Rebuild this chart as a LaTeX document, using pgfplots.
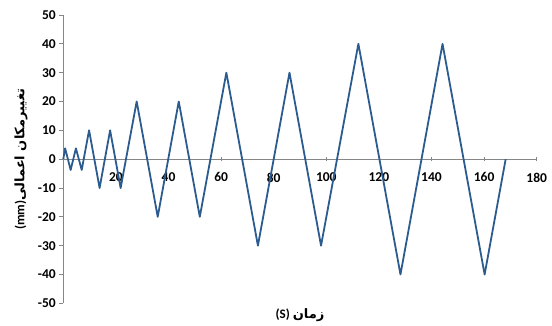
\documentclass[border=0pt]{standalone}
\usepackage{pgfplots}
\pgfplotsset{compat=1.18}
\usepackage{fontspec}
\setmainfont{Carlito}
\newfontfamily\arabicfont[Script=Arabic]{DejaVu Sans}
\TeXXeTstate=1
\definecolor{series}{RGB}{44,92,143}
\definecolor{axisgray}{RGB}{134,134,134}
\begin{document}
\begin{tikzpicture}
\begin{axis}[
  scale only axis,
  width=473.4pt, height=288.3pt,
  xmin=0, xmax=180, ymin=-50, ymax=50,
  axis y line=left, axis x line=middle,
  axis line style={axisgray, line width=0.8pt, -},
  xtick={0,20,...,180}, ytick={-50,-40,...,50},
  major tick length=4pt,
  every tick/.style={axisgray, line width=0.8pt},
  ytick align=outside, xtick align=center,
  /pgf/number format/assume math mode=true,
  tick label style={font=\fontsize{13.5}{15}\selectfont\bfseries, black},
  xticklabel style={anchor=north, yshift=-8pt},
  yticklabel style={anchor=east},
  xlabel={\fontsize{13}{15}\selectfont\bfseries (S) \arabicfont\beginR زمان\endR},
  ylabel={\fontsize{13}{15}\selectfont\bfseries (mm)\arabicfont\beginR تغییرمکان اعمالی\endR},
  x label style={at={(axis description cs:0.5,0)}, anchor=center, yshift=-12pt},
  y label style={at={(axis description cs:-0.0894,0.5)}, anchor=center},
  clip=false,
]
\addplot[series, line width=1.8pt, line join=round] coordinates {
(0,0) (0.7,3.75) (2.8,-3.75) (4.8,3.75) (7.0,-3.75) (9.8,10) (13.8,-10) (17.8,10) (21.8,-10)
(27.9,20) (35.9,-20) (43.9,20) (51.9,-20) (62,30) (74,-30) (86,30) (98,-30)
(112.2,40) (128.2,-40) (144.2,40) (160.2,-40) (168.2,0)
};
\end{axis}
\pgfresetboundingbox
\path (-63.3pt,-21.7pt) rectangle (488.7pt,303.3pt);
\end{tikzpicture}
\end{document}
